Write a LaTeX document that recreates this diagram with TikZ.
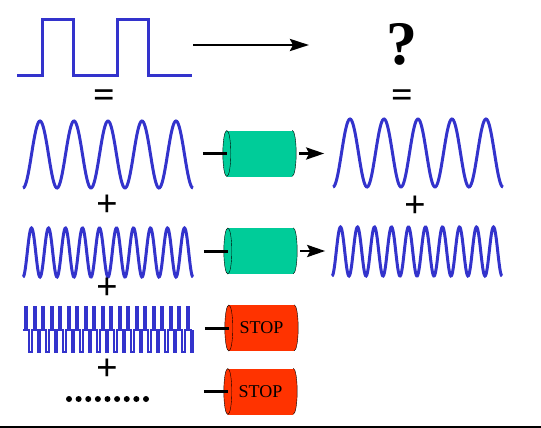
\documentclass[tikz,border=0pt]{standalone}
\usepackage{fontspec}
\setmainfont{Liberation Serif}
\usetikzlibrary{arrows.meta,positioning}
\definecolor{waveblue}{HTML}{3333CC}
\definecolor{tubegreen}{HTML}{00CC99}
\definecolor{tubered}{HTML}{FF3300}

\begin{document}
\begin{tikzpicture}[x=1pt, y=-1pt,
  wave/.style={draw=waveblue, line width=3pt},
  tube/.style={rectangle, minimum width=65pt, minimum height=46pt, inner sep=0pt, font=\fontsize{18}{18}\selectfont},
  lead/.style={line width=3pt},
  flow/.style={line width=2.8pt, -{Stealth[length=18pt, width=12pt, inset=3pt]}},
  op/.style={inner sep=0pt, font=\fontsize{38}{38}\selectfont\bfseries}
]
  \useasboundingbox (0,0) rectangle (541,428);

  % square wave and the question
  \draw[wave, line join=miter] (17,76) -- (42,76) -- (42,20) -- (73,20) -- (73,76) -- (117,76)
    -- (117,20) -- (148,20) -- (148,76) -- (192,76);
  \coordinate (sqOut) at (193,45);
  \coordinate (askIn) at (309,45);
  \draw[flow, -{Stealth[length=19pt, width=12pt, inset=3pt]}] (sqOut) -- (askIn);
  \node[inner sep=0pt, font=\fontsize{62}{62}\selectfont\bfseries] (ask) at (402,44) {?};

  \node[op] (eqL) at (104,99) {=};
  \node[op] (eqR) at (402,99) {=};

  % harmonics in
  \draw[wave] plot[domain=23:193, samples=200, smooth] (\x, {154.5+33.5*cos((\x-23)/34*360)});
  \draw[wave] plot[domain=23:193, samples=300, smooth] (\x, {252.5+24.5*cos((\x-23)/17*360)});
  \draw[wave, line width=2pt, const plot] plot[domain=23:193, samples=81] (\x, {329.5-22.5*sin((\x-23)/8.5*360)});
  \foreach \i in {0,...,8}
    \fill (69+9.625*\i, 399) circle (3pt);

  \node[op] (plusA) at (107,206) {+};
  \node[op] (plusB) at (107,289) {+};
  \node[op] (plusC) at (107,370) {+};

  % tubes
  \node[tube, fill=tubegreen] (tubeA) at (259.5,153.5) {};
  \node[tube, fill=tubegreen] (tubeB) at (260.5,251) {};
  \node[tube, fill=tubered] (tubeC) at (261.5,328) {STOP};
  \node[tube, fill=tubered] (tubeD) at (260.5,391.5) {STOP};
  \foreach \t/\c in {tubeA/tubegreen, tubeB/tubegreen, tubeC/tubered, tubeD/tubered} {
    \fill[\c] (\t.north east) arc[start angle=90, end angle=-90, x radius=4pt, y radius=23pt];
    \draw[thin] (\t.north east) arc[start angle=90, end angle=-90, x radius=4pt, y radius=23pt];
    \filldraw[fill=\c, draw=black, thin] (\t.west) ellipse[x radius=4pt, y radius=23pt];
    \coordinate[left=24pt of \t.west] (\t-in);
    \draw[lead] (\t-in) -- (\t.west);
  }
  \coordinate[right=7pt of tubeA.east] (tubeA-out);
  \coordinate[right=32pt of tubeA.east] (waveA-in);
  \coordinate[right=7pt of tubeB.east] (tubeB-out);
  \coordinate[right=32pt of tubeB.east] (waveB-in);
  \draw[flow] (tubeA-out) -- (waveA-in);
  \draw[flow] (tubeB-out) -- (waveB-in);

  % harmonics out
  \draw[wave] plot[domain=333:503, samples=200, smooth] (\x, {153+34*cos((\x-333)/34*360)});
  \draw[wave] plot[domain=332:502, samples=300, smooth] (\x, {251.5+24.5*cos((\x-332)/17*360)});
  \node[op] (plusR) at (415,207) {+};

  \draw[line width=2pt] (0,427) -- (541,427);
\end{tikzpicture}
\end{document}
